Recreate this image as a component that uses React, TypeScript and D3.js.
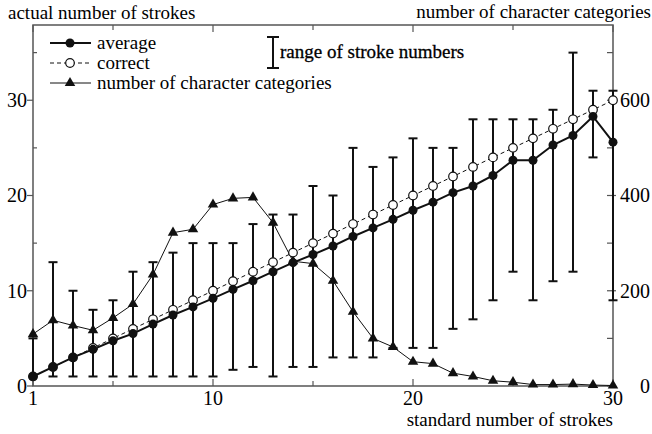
import React from "react";
import * as d3 from "d3";

const strokes = [1,2,3,4,5,6,7,8,9,10,11,12,13,14,15,16,17,18,19,20,21,22,23,24,25,26,27,28,29,30];
const average = [1,2,3,3.85,4.75,5.5,6.5,7.45,8.3,9.2,10.15,11.05,12.0,12.95,13.8,14.7,15.7,16.6,17.5,18.45,19.3,20.3,21.0,22.1,23.7,23.7,25.3,26.3,28.3,25.6];
const correct = [1,2,3,4,5,6,7,8,9,10,11,12,13,14,15,16,17,18,19,20,21,22,23,24,25,26,27,28,29,30];
const rangeMin = [1,1,1,1,1,1,1,1,1,1,1.7,2,1,2,2,3,3,3,4,4,4,6,7,9,12,9,11,12,24,9];
const rangeMax = [5,13,10,8,9,12,13,14,15,15,15,17,18,18,21,20,25,23,24,26,25,25,28,28,28,28,29,35,31,31];
const categories = [109,138,127,117,143,172,234,322,329,381,394,396,343,262,257,221,156,100,82,51,47,27,20,11,8,3,3,4,2,1];

const xTickLabels = [1, 10, 20, 30];
const xMinorTicks = [5, 15, 25];
const leftTickLabels = [0, 10, 20, 30];
const leftMinorTicks = [5, 15, 25, 35];
const rightTickLabels = [0, 200, 400, 600];
const rightMinorTicks = [100, 300, 500, 700];

const W = 652, H = 434;
const L = 33, R = 613, T = 25, B = 386;
const FONT = "Liberation Serif, Times New Roman, Times, DejaVu Serif, serif";

export default function App() {
  const x = d3.scaleLinear().domain([1, 30]).range([L, R]);
  const y = d3.scaleLinear().domain([0, 37.9]).range([B, T]);
  const yr = d3.scaleLinear().domain([0, 758]).range([B, T]);

  const avgLine = d3.line<number>().x((_, i) => x(strokes[i])).y((d) => y(d));
  const corLine = d3.line<number>().x((_, i) => x(strokes[i])).y((d) => y(d));
  const catLine = d3.line<number>().x((_, i) => x(strokes[i])).y((d) => yr(d));
  const tri = d3.symbol().type(d3.symbolTriangle).size(48)();
  const axisColor = "#555";
  const cap = 4.5;
  const ts = { fontFamily: FONT } as React.CSSProperties;

  return (
    <svg width={W} height={H} style={{ position: "absolute", left: 0, top: 0, background: "#fff", fontFamily: FONT }}>
      {/* frame */}
      <rect x={L} y={T} width={R - L} height={B - T} fill="none" stroke={axisColor} strokeWidth={1.5} />
      {/* bottom ticks */}
      {xTickLabels.map((v) => (
        <g key={"xb" + v}>
          <line x1={x(v)} x2={x(v)} y1={B} y2={B - 7} stroke={axisColor} strokeWidth={1.2} />
          <line x1={x(v)} x2={x(v)} y1={T} y2={T + 7} stroke={axisColor} strokeWidth={1.2} />
          <text style={ts} x={x(v)} y={405} textAnchor="middle" fontSize={20}>{v}</text>
        </g>
      ))}
      {xMinorTicks.map((v) => (
        <g key={"xm" + v}>
          <line x1={x(v)} x2={x(v)} y1={B} y2={B - 5} stroke={axisColor} strokeWidth={1.2} />
          <line x1={x(v)} x2={x(v)} y1={T} y2={T + 5} stroke={axisColor} strokeWidth={1.2} />
        </g>
      ))}
      {leftTickLabels.map((v) => (
        <g key={"yl" + v}>
          <line x1={L - 6} x2={L} y1={y(v)} y2={y(v)} stroke={axisColor} strokeWidth={1.2} />
          <text style={ts} x={27} y={y(v) + 7} textAnchor="end" fontSize={20}>{v}</text>
        </g>
      ))}
      {leftMinorTicks.map((v) => (
        <line key={"ylm" + v} x1={L} x2={L + 4} y1={y(v)} y2={y(v)} stroke={axisColor} strokeWidth={1.2} />
      ))}
      {rightTickLabels.map((v) => (
        <g key={"yr" + v}>
          <line x1={R - 6} x2={R + 3} y1={yr(v)} y2={yr(v)} stroke={axisColor} strokeWidth={1.2} />
          <text style={ts} x={650} y={yr(v) + 7} textAnchor="end" fontSize={20}>{v}</text>
        </g>
      ))}
      {rightMinorTicks.map((v) => (
        <line key={"yrm" + v} x1={R - 6} x2={R} y1={yr(v)} y2={yr(v)} stroke={axisColor} strokeWidth={1.2} />
      ))}

      {/* axis titles */}
      <text style={ts} x={8} y={19} fontSize={19}>actual number of strokes</text>
      <text style={ts} x={651} y={18} fontSize={19} textAnchor="end">number of character categories</text>
      <text style={ts} x={613} y={426} fontSize={19} textAnchor="end">standard number of strokes</text>

      {/* error bars */}
      {strokes.map((s, i) => (
        <g key={"eb" + s} stroke="#111" strokeWidth={2}>
          <line x1={x(s)} x2={x(s)} y1={y(rangeMin[i])} y2={y(rangeMax[i])} />
          <line x1={x(s) - cap} x2={x(s) + cap} y1={y(rangeMin[i])} y2={y(rangeMin[i])} />
          <line x1={x(s) - cap} x2={x(s) + cap} y1={y(rangeMax[i])} y2={y(rangeMax[i])} />
        </g>
      ))}

      {/* lines */}
      <path d={catLine(categories) || ""} fill="none" stroke="#111" strokeWidth={1} />
      <path d={corLine(correct) || ""} fill="none" stroke="#111" strokeWidth={1} strokeDasharray="4,3" />
      <path d={avgLine(average) || ""} fill="none" stroke="#111" strokeWidth={2} />

      {/* markers */}
      {strokes.map((s, i) => (
        <path key={"tr" + s} d={tri || ""} transform={`translate(${x(s)},${yr(categories[i])})`} fill="#111" />
      ))}
      {strokes.map((s, i) => (
        <circle key={"co" + s} cx={x(s)} cy={y(correct[i])} r={4.3} fill="#fff" stroke="#111" strokeWidth={1.2} />
      ))}
      {strokes.map((s, i) => (
        <circle key={"av" + s} cx={x(s)} cy={y(average[i])} r={4.5} fill="#111" />
      ))}

      {/* legend */}
      <g>
        <line x1={50} x2={91} y1={43} y2={43} stroke="#111" strokeWidth={2} />
        <circle cx={70} cy={43} r={4.5} fill="#111" />
        <text style={ts} x={97} y={49} fontSize={19}>average</text>
        <line x1={50} x2={91} y1={63} y2={63} stroke="#111" strokeWidth={1} strokeDasharray="4,3" />
        <circle cx={70} cy={63} r={4.3} fill="#fff" stroke="#111" strokeWidth={1.2} />
        <text style={ts} x={97} y={69} fontSize={19}>correct</text>
        <line x1={50} x2={91} y1={83} y2={83} stroke="#111" strokeWidth={1} />
        <path d={tri || ""} transform="translate(70,83)" fill="#111" />
        <text style={ts} x={97} y={89} fontSize={19}>number of character categories</text>

        <g stroke="#111" strokeWidth={2}>
          <line x1={273} x2={273} y1={37} y2={68} />
          <line x1={267} x2={279} y1={37} y2={37} />
          <line x1={267} x2={279} y1={68} y2={68} />
        </g>
        <text style={ts} x={280} y={58} fontSize={19} stroke="#000" strokeWidth={0.3}>range of stroke numbers</text>
      </g>
    </svg>
  );
}
